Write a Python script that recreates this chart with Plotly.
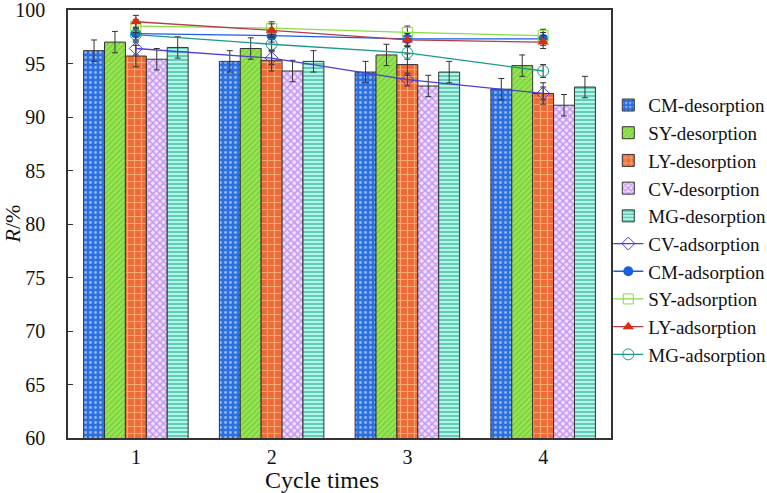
import plotly.graph_objects as go

cycles = ["1", "2", "3", "4"]

CM_des = [96.2, 95.2, 94.2, 92.6]
SY_des = [97.0, 96.4, 95.8, 94.8]
LY_des = [95.7, 95.3, 94.9, 92.2]
CV_des = [95.4, 94.3, 92.9, 91.1]
MG_des = [96.5, 95.2, 94.2, 92.8]
des_err = [1.0, 1.0, 1.0, 1.0]

CV_ads = [96.4, 95.5, 93.5, 92.2]
CM_ads = [97.8, 97.6, 97.3, 97.3]
SY_ads = [98.5, 98.3, 97.9, 97.6]
LY_ads = [98.9, 98.1, 97.2, 97.0]
MG_ads = [97.7, 96.8, 96.0, 94.3]
ads_err = [0.6, 0.6, 0.6, 0.6]

FONT = "Liberation Serif, Times New Roman, serif"

fig = go.Figure()

bar_specs = [
    ("CM-desorption", CM_des, dict(shape=".", fgcolor="#ffffff", bgcolor="#2b6fe0", size=5, solidity=0.25)),
    ("SY-desorption", SY_des, dict(shape="/", fgcolor="#5aa82a", bgcolor="#95e650", size=4, solidity=0.3)),
    ("LY-desorption", LY_des, dict(shape="+", fgcolor="#ffe8a8", bgcolor="#ee6a38", size=7, solidity=0.3)),
    ("CV-desorption", CV_des, dict(shape="x", fgcolor="#9a4ee0", bgcolor="#f0e0ff", size=5, solidity=0.5)),
    ("MG-desorption", MG_des, dict(shape="-", fgcolor="#12a08c", bgcolor="#b4f6e6", size=4, solidity=0.5)),
]
for name, vals, pat in bar_specs:
    fig.add_trace(go.Bar(
        x=cycles, y=vals, name=name,
        marker=dict(pattern=pat, color=pat["bgcolor"], line=dict(color="#333333", width=1)),
        error_y=dict(type="data", array=des_err, color="#333333", thickness=1, width=3),
    ))

line_specs = [
    ("CV-adsorption", CV_ads, "#4a3fd0", dict(symbol="diamond-open", size=10, color="#4a3fd0")),
    ("CM-adsorption", CM_ads, "#1a5fe0", dict(symbol="circle", size=10, color="#1a5fe0")),
    ("SY-adsorption", SY_ads, "#88dd44", dict(symbol="square-open", size=10, color="#88dd44")),
    ("LY-adsorption", LY_ads, "#b83a4a", dict(symbol="triangle-up", size=10, color="#e02a10")),
    ("MG-adsorption", MG_ads, "#1a9a8a", dict(symbol="circle-open", size=11, color="#1a9a8a")),
]
for name, vals, lc, mk in line_specs:
    fig.add_trace(go.Scatter(
        x=cycles, y=vals, name=name, mode="lines+markers",
        line=dict(color=lc, width=1.3), marker=mk,
        error_y=dict(type="data", array=ads_err, color="#333333", thickness=1, width=3),
    ))

fig.update_layout(
    width=767, height=493,
    margin=dict(l=68, r=156, t=10, b=55, autoexpand=False),
    paper_bgcolor="white", plot_bgcolor="white",
    barmode="group", bargap=0.23, bargroupgap=0,
    font=dict(family=FONT, color="#111111"),
    showlegend=True,
    legend=dict(
        x=0.995, xanchor="left", y=0.822, yanchor="top",
        font=dict(family=FONT, size=19, color="#111111"),
        bgcolor="rgba(0,0,0,0)", tracegroupgap=0,
    ),
    xaxis=dict(
        type="category", showline=True, linecolor="#333333", linewidth=1.5, mirror=True,
        ticks="", tickfont=dict(family=FONT, size=20), showgrid=False,
    ),
    yaxis=dict(
        range=[60, 100], dtick=5, showline=True, linecolor="#333333", linewidth=1.5, mirror=True,
        ticks="inside", ticklen=5, tickcolor="#333333", tickfont=dict(family=FONT, size=20),
        showgrid=False, zeroline=False, ticklabelstandoff=17, ticklabeloverflow="allow",
    ),
    annotations=[
        dict(
            text="Cycle times", x=0.467, xref="paper", y=-0.063, yref="paper",
            xanchor="center", yanchor="top", showarrow=False,
            font=dict(family=FONT, size=24, color="#111111"),
        ),
        dict(
            text="<i>R</i>/%", x=-0.104, xref="paper", y=0.5, yref="paper",
            xanchor="center", yanchor="middle", textangle=-90, showarrow=False,
            font=dict(family=FONT, size=22, color="#111111"),
        ),
    ],
)

fig.write_html("out.html", config={"displayModeBar": False},
               post_script="document.body.style.margin='0';")
